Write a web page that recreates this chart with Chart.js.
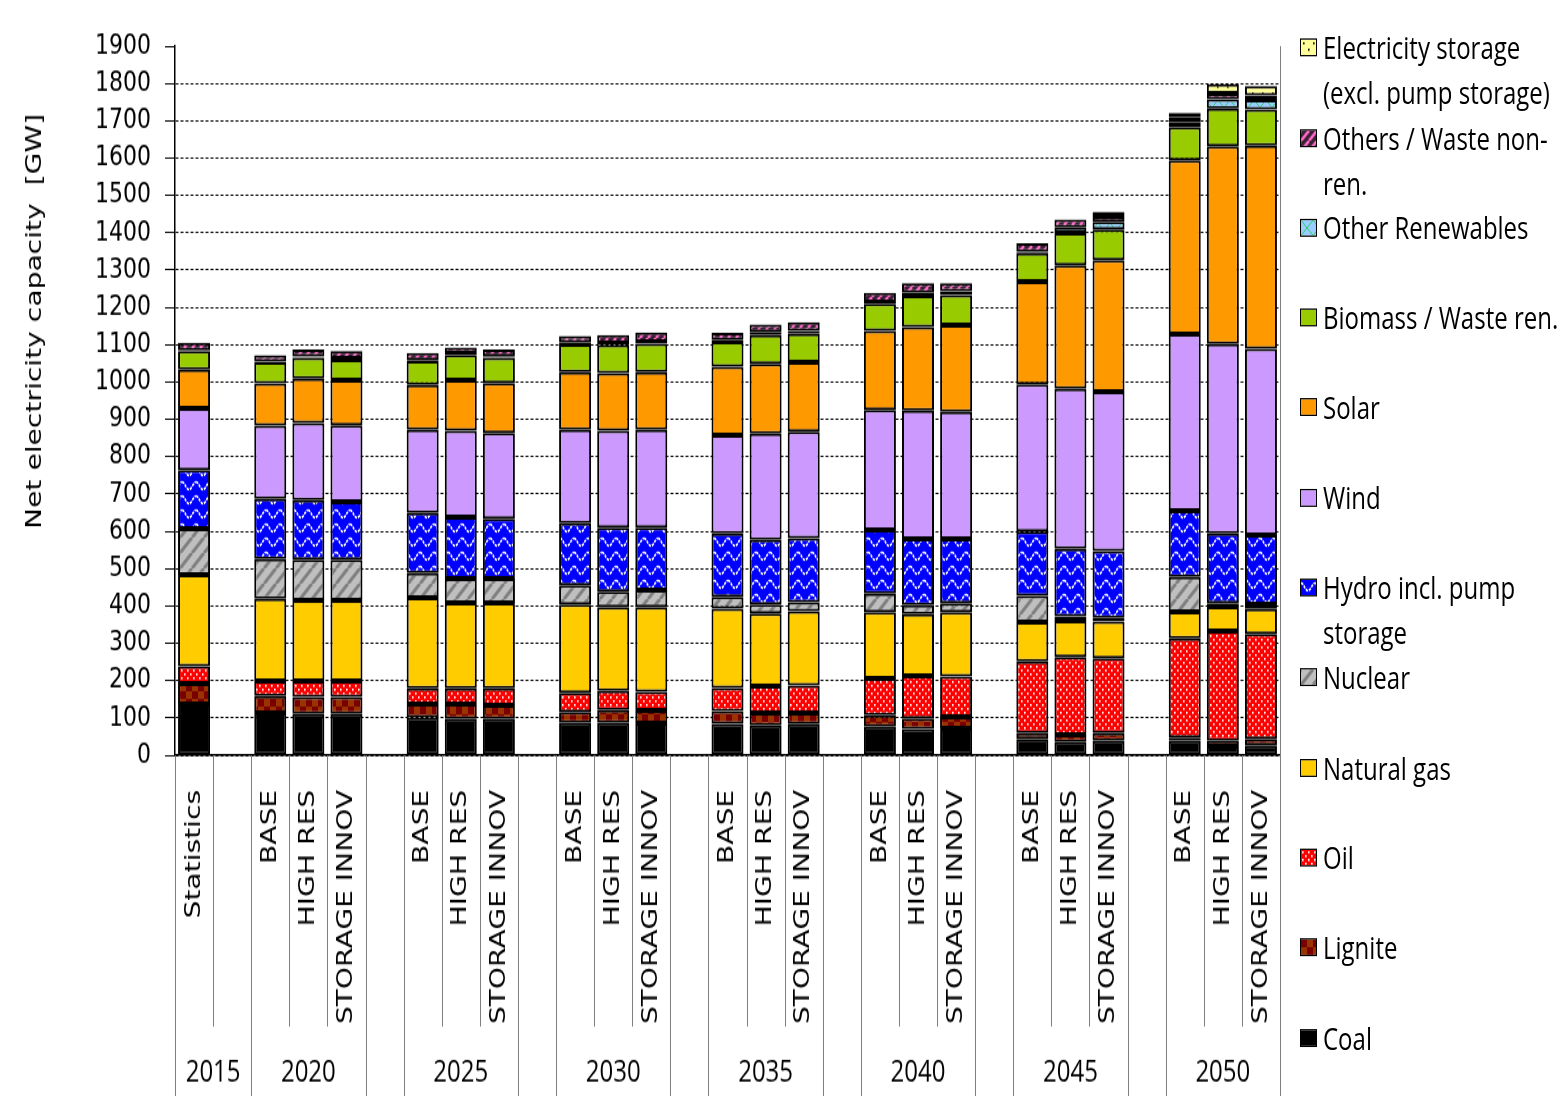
<!DOCTYPE html>
<html>
<head>
<meta charset="utf-8">
<script src="https://cdn.jsdelivr.net/npm/chart.js@4.4.1/dist/chart.umd.min.js"></script>
<style>
html, body { margin: 0; padding: 0; background: #fff; overflow: hidden; }
#wrap { position: absolute; left: 0; top: 0; width: 1564px; height: 856px; transform: scaleY(1.28); transform-origin: 0 0; }
#legend { position: absolute; left: 0; top: 0; }
.item { position: absolute; left: 1298px; font: 24px 'Open Sans', sans-serif; line-height: 35px; white-space: pre; color: #000; }
.sw { position: absolute; left: 2px; top: 11px; width: 15px; height: 12px; border: 1.5px solid #000; background-repeat: repeat; }
.txt { position: absolute; left: 25px; top: 0; }
</style>
</head>
<body>
<div id="wrap">
  <canvas id="c" width="1564" height="856"></canvas>
  <div id="legend"></div>
</div>
<script>
// slots on the category axis ('' = gap between year groups)
const slotLabels = ['Statistics', '',
  'BASE', 'HIGH RES', 'STORAGE INNOV', '',
  'BASE', 'HIGH RES', 'STORAGE INNOV', '',
  'BASE', 'HIGH RES', 'STORAGE INNOV', '',
  'BASE', 'HIGH RES', 'STORAGE INNOV', '',
  'BASE', 'HIGH RES', 'STORAGE INNOV', '',
  'BASE', 'HIGH RES', 'STORAGE INNOV', '',
  'BASE', 'HIGH RES', 'STORAGE INNOV'];
const slotYears = ['2015', '2015',
  '2020', '2020', '2020', '',
  '2025', '2025', '2025', '',
  '2030', '2030', '2030', '',
  '2035', '2035', '2035', '',
  '2040', '2040', '2040', '',
  '2045', '2045', '2045', '',
  '2050', '2050', '2050'];

// GW per bar: Statistics, then BASE / HIGH RES / STORAGE INNOV for 2020..2050
const coal     = [137, 113, 111, 111, 101, 97, 97, 87, 87, 86, 84, 80, 83, 76, 70, 72, 44, 35, 39, 39, 24, 27];
const lignite  = [55, 46, 45, 45, 36, 40, 37, 29, 34, 34, 34, 33, 30, 31, 29, 31, 15, 20, 20, 8, 15, 17];
const oil      = [46, 40, 43, 43, 42, 42, 45, 51, 51, 50, 62, 72, 74, 99, 114, 108, 192, 208, 201, 266, 294, 281];
const gas      = [246, 220, 216, 216, 243, 229, 229, 237, 225, 227, 213, 195, 199, 177, 165, 172, 106, 97, 98, 71, 65, 67];
const nuclear  = [123, 107, 109, 109, 66, 65, 65, 51, 41, 45, 31, 24, 24, 50, 24, 24, 70, 12, 10, 94, 9, 13];
const hydro    = [157, 161, 159, 155, 161, 165, 161, 167, 172, 168, 170, 173, 171, 171, 178, 173, 172, 181, 179, 177, 187, 185];
const wind     = [165, 196, 207, 205, 223, 231, 229, 250, 259, 262, 263, 285, 286, 321, 343, 340, 395, 429, 427, 473, 508, 499];
const solar    = [104, 113, 119, 121, 120, 136, 134, 154, 155, 154, 184, 187, 186, 212, 224, 232, 275, 331, 352, 466, 530, 544];
const biomass  = [50, 57, 56, 55, 64, 68, 68, 75, 75, 77, 67, 77, 76, 73, 84, 81, 76, 86, 83, 89, 101, 97];
const otherRen = [2, 2, 3, 3, 3, 4, 4, 4, 5, 5, 4, 8, 8, 4, 8, 10, 4, 15, 20, 12, 25, 26];
const others   = [20, 17, 19, 20, 19, 15, 18, 18, 22, 25, 20, 20, 23, 25, 26, 22, 23, 21, 15, 14, 15, 12];
const storage  = [0, 0, 0, 0, 0, 0, 0, 0, 0, 0, 0, 0, 0, 0, 0, 0, 0, 0, 12, 12, 25, 25];

const H = 856;

function tile(w, h, draw) {
  const c = document.createElement('canvas');
  c.width = w; c.height = h;
  draw(c.getContext('2d'), w, h);
  return c;
}
function solid(col) {
  return tile(4, 4, (g) => { g.fillStyle = col; g.fillRect(0, 0, 4, 4); });
}
function stripes(bg, fg, size, lw) {
  return tile(size, size, (g, w, h) => {
    g.fillStyle = bg; g.fillRect(0, 0, w, h);
    g.strokeStyle = fg; g.lineWidth = lw;
    [-w, 0, w].forEach(o => { g.beginPath(); g.moveTo(o, h); g.lineTo(o + w, 0); g.stroke(); });
  });
}

const tiles = {
  coal: solid('#000000'),
  lignite: tile(12, 12, (g) => {
    g.fillStyle = '#993300'; g.fillRect(0, 0, 12, 12);
    g.fillStyle = '#7a0000'; g.fillRect(0, 0, 6, 6); g.fillRect(6, 6, 6, 6);
  }),
  oil: tile(6, 6, (g) => {
    g.fillStyle = '#ff0000'; g.fillRect(0, 0, 6, 6);
    g.fillStyle = '#ffffff'; g.fillRect(1, 1, 1.6, 1.6); g.fillRect(4, 4, 1.6, 1.6);
  }),
  gas: solid('#ffcc00'),
  nuclear: stripes('#bfbfbf', '#808080', 12, 3),
  hydro: tile(14, 11, (g) => {
    g.fillStyle = '#0000ff'; g.fillRect(0, 0, 14, 11);
    g.strokeStyle = '#ffffff'; g.lineWidth = 1.6; g.setLineDash([2.5, 1]);
    g.beginPath();
    for (let i = 0; i <= 14; i++) {
      const yy = 5.5 - 3 * Math.cos(i / 14 * Math.PI * 2);
      if (i === 0) g.moveTo(i, yy); else g.lineTo(i, yy);
    }
    g.stroke();
  }),
  wind: solid('#cc99ff'),
  solar: solid('#ff9900'),
  biomass: solid('#99cc00'),
  otherRen: tile(12, 12, (g) => {
    g.fillStyle = '#99ccff'; g.fillRect(0, 0, 12, 12);
    g.strokeStyle = '#33cc66'; g.lineWidth = 1;
    g.beginPath(); g.moveTo(0, 0); g.lineTo(12, 12); g.moveTo(12, 0); g.lineTo(0, 12); g.stroke();
  }),
  others: stripes('#3a2233', '#ff66cc', 8, 2.5),
  storage: tile(10, 10, (g) => {
    g.fillStyle = '#ffff99'; g.fillRect(0, 0, 10, 10);
    g.fillStyle = '#000000'; g.fillRect(2, 2, 1.6, 1.6); g.fillRect(7, 7, 1.6, 1.6);
  })
};

// bottom to top
const series = [
  { label: 'Coal', legend: 'Coal', data: coal, tile: tiles.coal },
  { label: 'Lignite', legend: 'Lignite', data: lignite, tile: tiles.lignite },
  { label: 'Oil', legend: 'Oil', data: oil, tile: tiles.oil },
  { label: 'Natural gas', legend: 'Natural gas', data: gas, tile: tiles.gas },
  { label: 'Nuclear', legend: 'Nuclear', data: nuclear, tile: tiles.nuclear },
  { label: 'Hydro incl. pump storage', legend: 'Hydro incl. pump\nstorage', data: hydro, tile: tiles.hydro },
  { label: 'Wind', legend: 'Wind', data: wind, tile: tiles.wind },
  { label: 'Solar', legend: 'Solar', data: solar, tile: tiles.solar },
  { label: 'Biomass / Waste ren.', legend: 'Biomass / Waste ren.', data: biomass, tile: tiles.biomass },
  { label: 'Other Renewables', legend: 'Other Renewables', data: otherRen, tile: tiles.otherRen },
  { label: 'Others / Waste non-ren.', legend: 'Others / Waste non-\nren.', data: others, tile: tiles.others },
  { label: 'Electricity storage (excl. pump storage)', legend: 'Electricity storage\n(excl. pump storage)', data: storage, tile: tiles.storage }
];

function toSlots(values) {
  let j = 0;
  return slotLabels.map(l => (l === '' ? null : values[j++]));
}

const canvas = document.getElementById('c');
const cctx = canvas.getContext('2d');

const frame = {
  id: 'frame',
  afterDraw(chart) {
    const { ctx, chartArea: a } = chart;
    const n = slotLabels.length;
    const w = (a.right - a.left) / n;
    ctx.save();
    ctx.strokeStyle = '#7f7f7f';
    ctx.lineWidth = 1;
    for (let k = 0; k <= n; k++) {
      const px = Math.round(a.left + k * w) + 0.5;
      const full = k === 0 || k === n || slotYears[k - 1] !== slotYears[k];
      ctx.beginPath();
      ctx.moveTo(px, a.bottom);
      ctx.lineTo(px, full ? H : 802);
      ctx.stroke();
    }
    ctx.beginPath();
    ctx.moveTo(Math.round(a.right) + 0.5, a.top);
    ctx.lineTo(Math.round(a.right) + 0.5, a.bottom);
    ctx.stroke();

    ctx.fillStyle = '#000';
    ctx.font = "24px 'Open Sans', sans-serif";
    ctx.textAlign = 'center';
    ctx.textBaseline = 'middle';
    let s = 0;
    for (let k = 1; k <= n; k++) {
      if (k === n || slotYears[k] !== slotYears[s]) {
        if (slotYears[s] !== '') ctx.fillText(slotYears[s], a.left + (s + k) / 2 * w, 838);
        s = k;
      }
    }

    ctx.translate(35, 251);
    ctx.rotate(-Math.PI / 2);
    ctx.font = "22px 'DejaVu Sans', sans-serif";
    ctx.fillText('Net electricity capacity  [GW]', 0, 0);
    ctx.restore();
  }
};

new Chart(cctx, {
  type: 'bar',
  data: {
    labels: slotLabels,
    datasets: series.map(s => ({
      label: s.label,
      data: toSlots(s.data),
      backgroundColor: cctx.createPattern(s.tile, 'repeat'),
      borderColor: '#000',
      borderWidth: 2,
      borderSkipped: false,
      barPercentage: 0.84,
      categoryPercentage: 1.0
    }))
  },
  options: {
    responsive: false,
    animation: false,
    layout: { padding: { left: 0, right: 284, top: 36, bottom: 0 } },
    plugins: { legend: { display: false }, tooltip: { enabled: false } },
    scales: {
      x: {
        stacked: true,
        grid: { display: false },
        border: { display: true, color: '#000', width: 1.5 },
        ticks: {
          autoSkip: false, minRotation: 90, maxRotation: 90, padding: 19, color: '#000',
          font: { family: 'DejaVu Sans', size: 22 }
        },
        afterFit(scale) { scale.height = 266; }
      },
      y: {
        stacked: true,
        min: 0,
        max: 1900,
        grid: {
          color: c => (c.tick && c.tick.value === 1900 ? 'rgba(0,0,0,0)' : '#000'),
          lineWidth: 1,
          tickColor: '#000',
          tickBorderDash: [],
          tickLength: 10
        },
        border: { display: true, color: '#000', width: 1.5, dash: [3, 2] },
        ticks: {
          stepSize: 100, autoSkip: false, padding: 14, color: '#000',
          font: { family: 'DejaVu Sans', size: 22 },
          callback: v => String(v)
        },
        afterFit(scale) { scale.width = 175; }
      }
    }
  },
  plugins: [frame]
});

// legend, top entry = top of the stack
const legendEl = document.getElementById('legend');
series.slice().reverse().forEach((s, i) => {
  const item = document.createElement('div');
  item.className = 'item';
  item.style.top = ((47 + 90 * i) / 1.28 - 17.5) + 'px';
  const sw = document.createElement('span');
  sw.className = 'sw';
  sw.style.backgroundImage = 'url(' + s.tile.toDataURL() + ')';
  const tx = document.createElement('span');
  tx.className = 'txt';
  tx.textContent = s.legend;
  item.appendChild(sw);
  item.appendChild(tx);
  legendEl.appendChild(item);
});
</script>
</body>
</html>
